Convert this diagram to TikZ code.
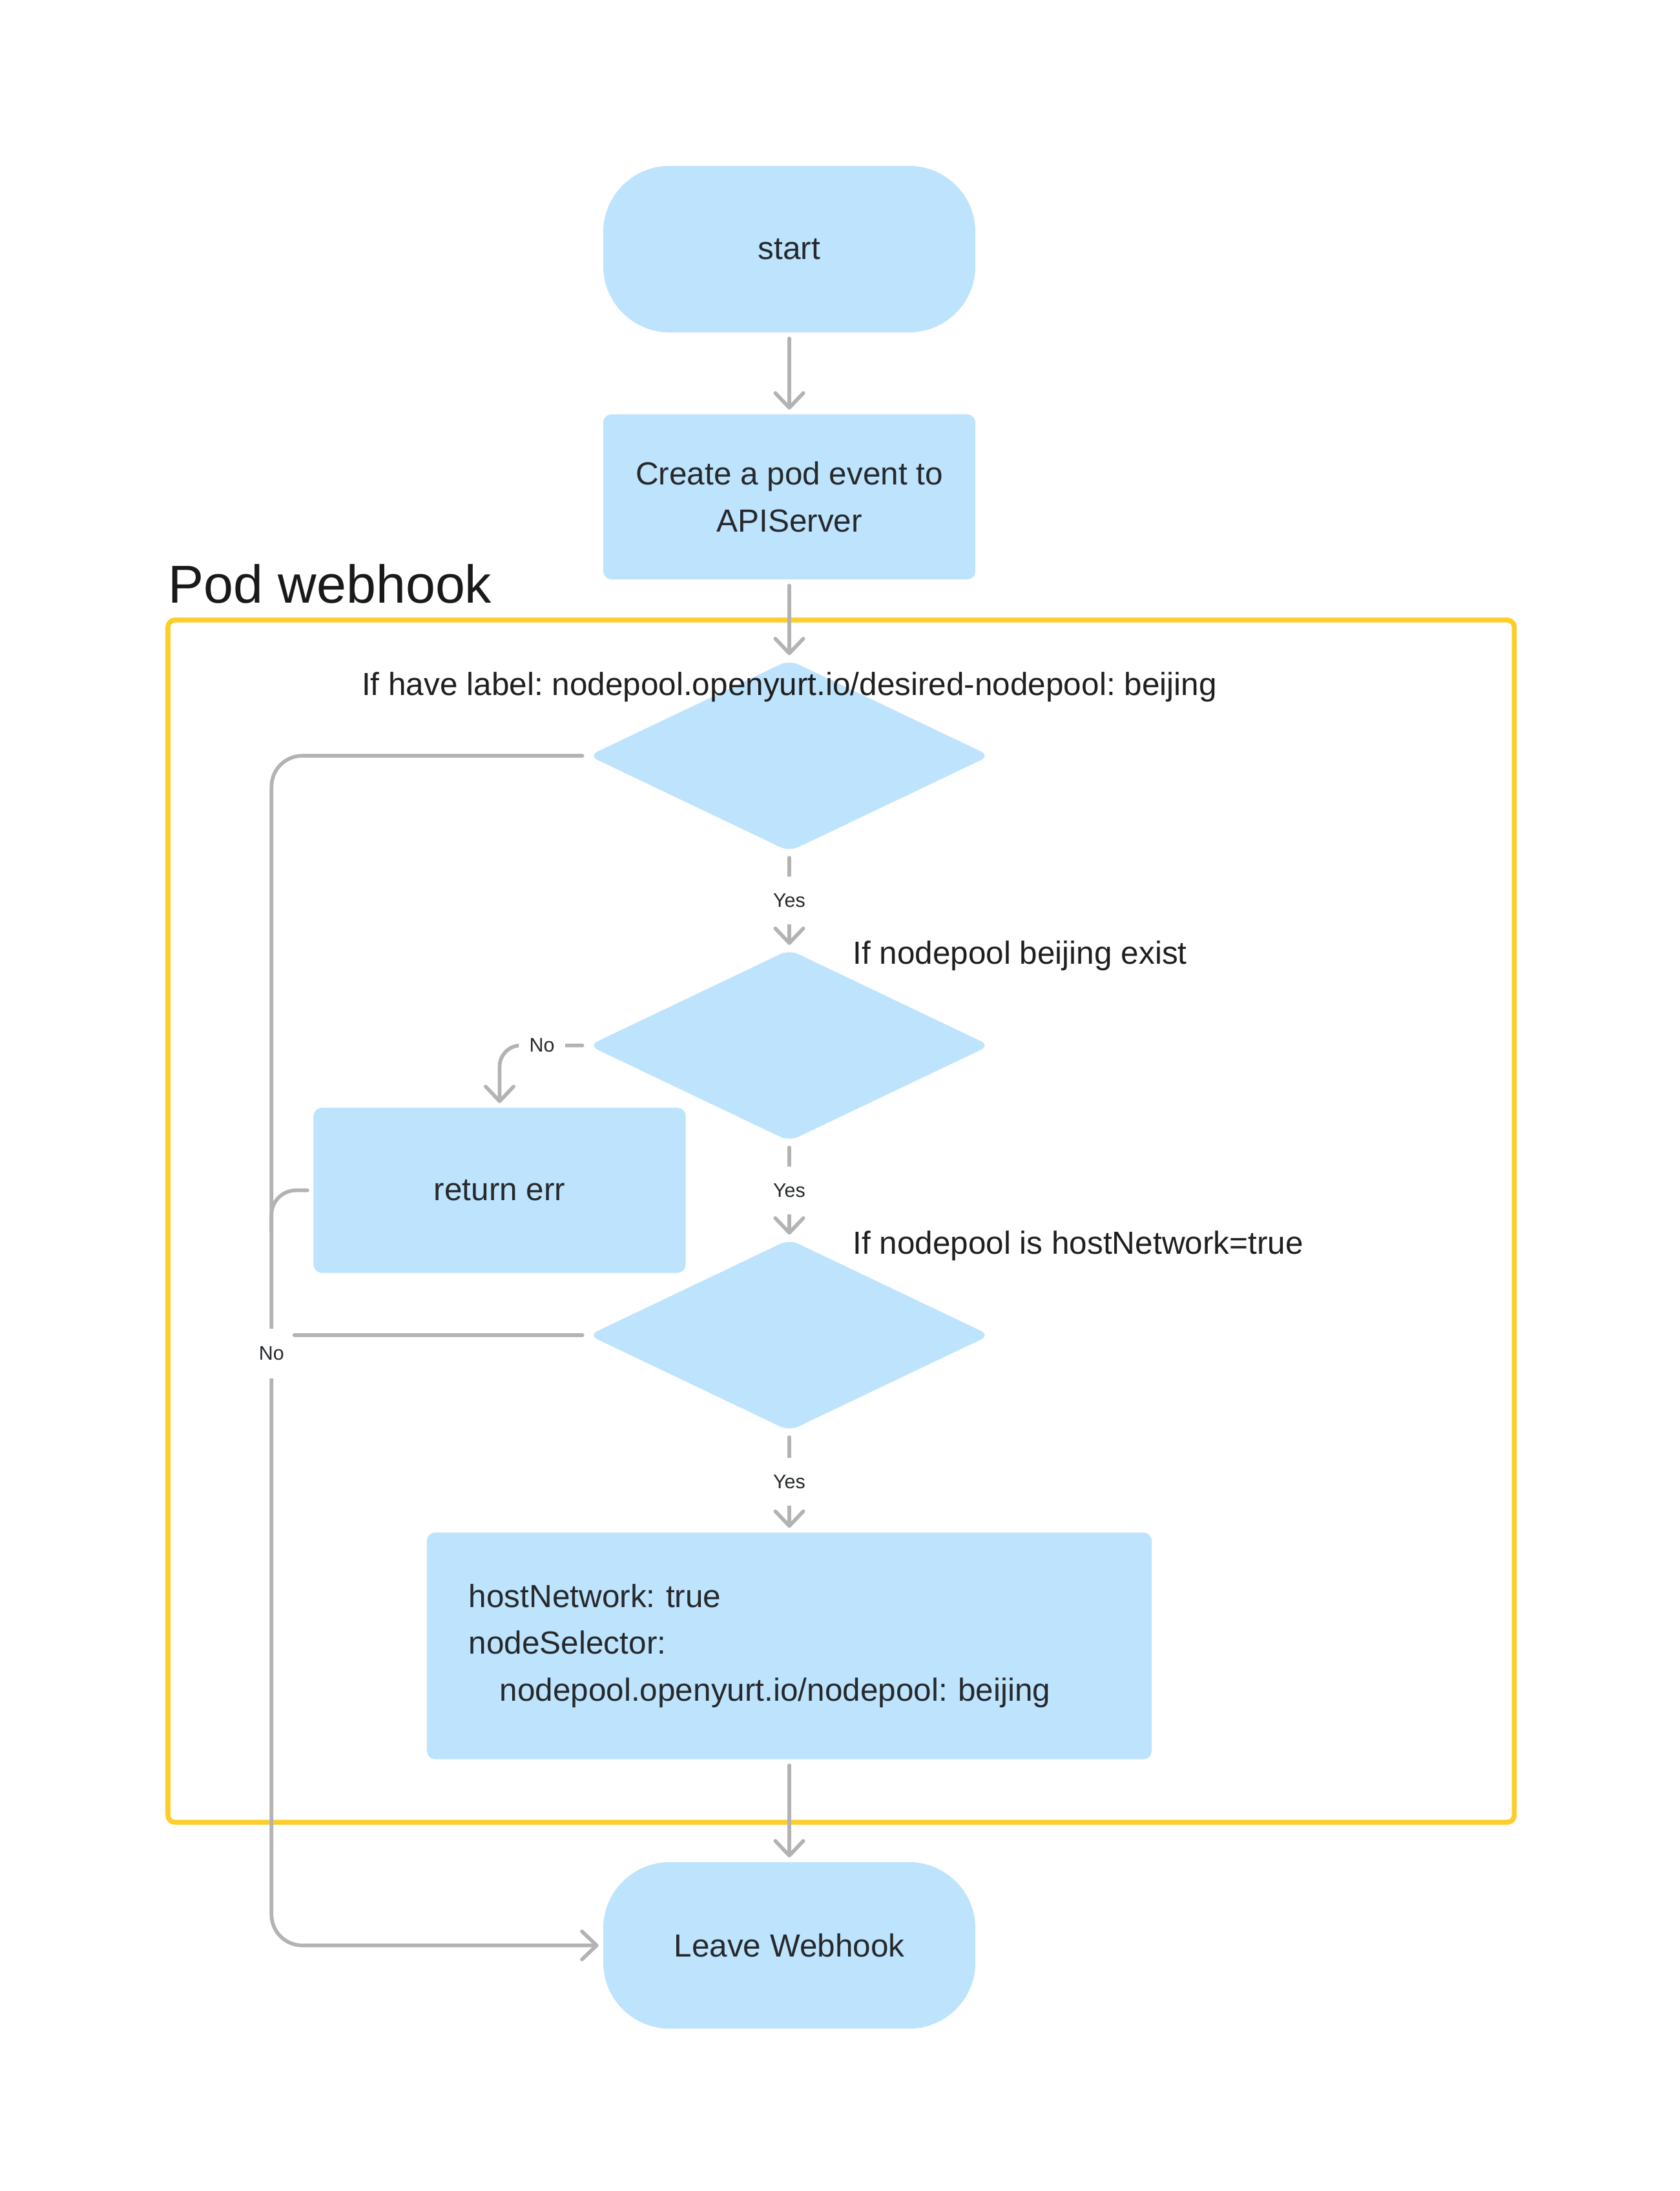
\documentclass[tikz,border=0pt]{standalone}
\usepackage{fontspec}
\setmainfont{Liberation Sans}
\usepackage{tikz}
\usetikzlibrary{arrows.meta, positioning, shapes.geometric}
\usepackage{color}
\frenchspacing

\definecolor{boxblue}{RGB}{190,227,252}
\definecolor{linegray}{RGB}{179,179,179}
\definecolor{frameyellow}{RGB}{255,205,41}
\definecolor{textdark}{RGB}{38,41,44}

\begin{document}
\begin{tikzpicture}[font=\fontsize{13}{19}\selectfont, text=textdark,
		terminal/.style={rectangle, rounded corners=0.95cm, fill=boxblue, minimum width=5.32cm, minimum height=2.38cm, align=center},
		process/.style={rectangle, rounded corners=0.12cm, fill=boxblue, minimum width=5.32cm, minimum height=2.36cm, align=center},
		decision/.style={diamond, rounded corners=4pt, fill=boxblue, minimum width=5.74cm, minimum height=2.74cm, inner sep=0pt},
		link/.style={draw=linegray, line width=1.5pt, line cap=round, shorten <=0.08cm},
		flow/.style={link, -{Straight Barb[length=2.1mm,width=4mm,round]}, shorten >=0.06cm},
		choice/.style={font=\fontsize{8}{10}\selectfont, fill=white, inner sep=0pt, minimum width=0.66cm, minimum height=0.68cm},
		cond/.style={inner sep=0pt, text=black!88}]
		\useasboundingbox (0,0) rectangle (24,-31.31);

		\draw[frameyellow, line width=2pt, rounded corners=0.1cm] (2.4,-8.86) rectangle (21.64,-26.04);
		\node[anchor=west, inner sep=0pt, text=black!90, font=\fontsize{21.7}{26}\selectfont] (title) at (2.4,-8.34) {Pod webhook};

		\node[terminal] (start) at (11.28,-3.56) {start};
		\node[process] (create) at (11.28,-7.1) {Create a pod event to\\APIServer};
		\node[decision] (d1) at (11.28,-10.8) {};
		\node[decision] (d2) at (11.28,-14.94) {};
		\node[decision] (d3) at (11.28,-19.08) {};
		\node[process] (err) at (7.14,-17.01) {return err};
		\node[process, minimum width=10.36cm, minimum height=3.24cm, text width=9.16cm, inner xsep=0.6cm, align=left] (spec) at (11.28,-23.52)
			{hostNetwork: true\\nodeSelector:\\\hspace*{0.44cm}nodepool.openyurt.io/nodepool: beijing};
		\node[terminal] (leave) at (11.28,-27.8) {Leave Webhook};
		\coordinate (rail) at (3.88,0);

		\node[cond] (q1) at (11.28,-9.82) {If have label: nodepool.openyurt.io/desired-nodepool: beijing};
		\node[cond, anchor=west] (q2) at (12.18,-13.66) {If nodepool beijing exist};
		\node[cond, anchor=west] (q3) at (12.18,-17.8) {If nodepool is hostNetwork=true};

		\draw[flow] (start) -- (create);
		\draw[flow] (create) -- (d1.north);
		\draw[flow] (d1.south) -- node[choice]{Yes} (d2.north);
		\draw[flow] (d2.south) -- node[choice]{Yes} (d3.north);
		\draw[flow] (d3.south) -- node[choice]{Yes} (spec);
		\draw[flow] (spec) -- (leave);
		\draw[flow, rounded corners=0.3cm] (d2.west) -| node[choice, pos=0.26]{No} (err.north);
		\draw[flow, rounded corners=0.44cm] (d1.west) -| (rail |- leave.west) -- (leave.west);
		\draw[link, rounded corners=0.35cm] (err.west) -| ([yshift=-0.6cm]rail |- err.west);
		\node[choice, minimum width=0.64cm, minimum height=0.71cm] (no3) at (3.88,-19.34) {No};
		\draw[link] (d3.west) -- (d3.west -| no3.east);
	\end{tikzpicture}
\end{document}
